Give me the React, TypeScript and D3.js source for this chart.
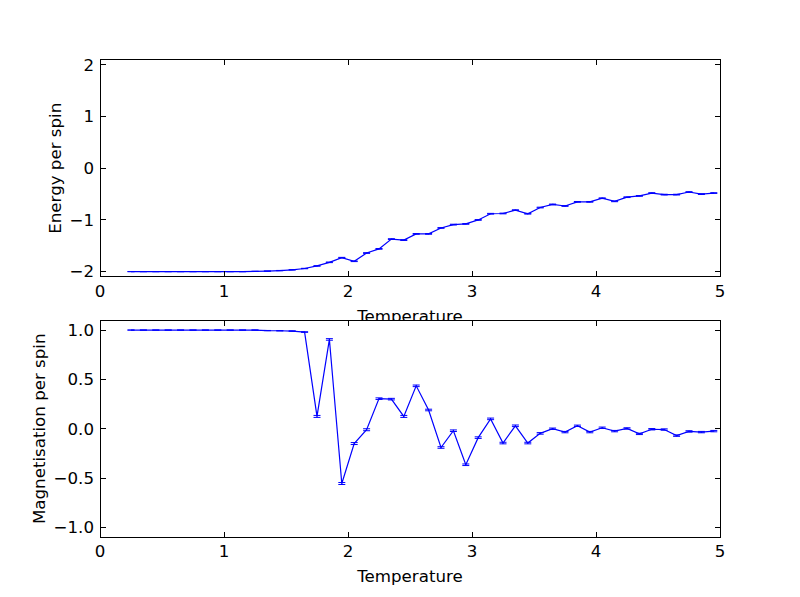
import * as d3 from "d3";

const temperatures = [
  0.25, 0.35, 0.45, 0.55, 0.65, 0.75, 0.85, 0.95, 1.05, 1.15,
  1.25, 1.35, 1.45, 1.55, 1.65, 1.75, 1.85, 1.95, 2.05, 2.15,
  2.25, 2.35, 2.45, 2.55, 2.65, 2.75, 2.85, 2.95, 3.05, 3.15,
  3.25, 3.35, 3.45, 3.55, 3.65, 3.75, 3.85, 3.95, 4.05, 4.15,
  4.25, 4.35, 4.45, 4.55, 4.65, 4.75, 4.85, 4.95,
];

const energy = [
  -2.0, -2.0, -2.0, -2.0, -2.0, -2.0, -2.0, -2.0, -2.0, -2.0,
  -1.995, -1.99, -1.98, -1.965, -1.94, -1.89, -1.82, -1.73, -1.8, -1.64,
  -1.56, -1.37, -1.39, -1.27, -1.27, -1.155, -1.09, -1.077, -1.0, -0.88,
  -0.875, -0.81, -0.88, -0.76, -0.7, -0.73, -0.65, -0.65, -0.58, -0.64,
  -0.56, -0.535, -0.48, -0.51, -0.51, -0.46, -0.5, -0.48,
];

const energyErr = [
  0.0, 0.0, 0.0, 0.0, 0.0, 0.0, 0.001, 0.001, 0.001, 0.002,
  0.002, 0.003, 0.003, 0.004, 0.004, 0.005, 0.006, 0.006, 0.006, 0.007,
  0.007, 0.007, 0.007, 0.007, 0.007, 0.007, 0.007, 0.007, 0.007, 0.007,
  0.007, 0.007, 0.007, 0.007, 0.007, 0.007, 0.007, 0.007, 0.007, 0.007,
  0.007, 0.007, 0.007, 0.007, 0.007, 0.007, 0.007, 0.007,
];

const magnetisation = [
  1.0, 1.0, 1.0, 1.0, 1.0, 1.0, 1.0, 1.0, 1.0, 1.0,
  1.0, 0.995, 0.993, 0.99, 0.98, 0.125, 0.905, -0.555, -0.15, -0.01,
  0.305, 0.3, 0.125, 0.435, 0.19, -0.19, -0.02, -0.365, -0.09, 0.1,
  -0.145, 0.03, -0.145, -0.047, 0.0, -0.034, 0.03, -0.034, 0.01, -0.024,
  0.003, -0.052, -0.005, -0.008, -0.07, -0.027, -0.034, -0.024,
];

const magnetisationErr = [
  0.0, 0.0, 0.0, 0.0, 0.0, 0.0, 0.0, 0.0, 0.0, 0.001,
  0.001, 0.001, 0.002, 0.002, 0.003, 0.01, 0.008, 0.01, 0.01, 0.01,
  0.008, 0.008, 0.01, 0.008, 0.008, 0.008, 0.008, 0.008, 0.008, 0.008,
  0.008, 0.008, 0.008, 0.008, 0.007, 0.007, 0.007, 0.007, 0.007, 0.007,
  0.007, 0.007, 0.007, 0.007, 0.007, 0.007, 0.007, 0.007,
];

const xTicks = [0, 1, 2, 3, 4, 5];
const energyTicks = [-2, -1, 0, 1, 2];
const magTicks = [-1.0, -0.5, 0.0, 0.5, 1.0];

const W = 800;
const H = 597;
const FONT = "DejaVu Sans, sans-serif";
const FS = 16.67;
const TICK = 5.5;
const BLUE = "#0000ff";

interface PanelProps {
  top: number;
  height: number;
  values: number[];
  errors: number[];
  yDomain: [number, number];
  yTicks: number[];
  yFormat: (v: number) => string;
  yLabel: string;
  yLabelX: number;
}

function Panel({ top, height, values, errors, yDomain, yTicks, yFormat, yLabel, yLabelX }: PanelProps) {
  const left = 100;
  const width = 620;
  const x = d3.scaleLinear().domain([0, 5]).range([left, left + width]);
  const y = d3.scaleLinear().domain(yDomain).range([top + height, top]);

  const pts = temperatures.map((t, i) => ({ t, v: values[i], e: errors[i] }));
  const line = d3
    .line<{ t: number; v: number }>()
    .x((d) => x(d.t))
    .y((d) => y(d.v));

  const bottom = top + height;
  const cap = 3.5;

  return (
    <g>
      <rect x={left} y={top} width={width} height={height} fill="#fff" />
      <path d={line(pts) ?? ""} fill="none" stroke={BLUE} strokeWidth={1.2} />
      {pts.map((p, i) => (
        <g key={i} stroke={BLUE} strokeWidth={1}>
          <line x1={x(p.t)} x2={x(p.t)} y1={y(p.v - p.e)} y2={y(p.v + p.e)} />
          <line x1={x(p.t) - cap} x2={x(p.t) + cap} y1={y(p.v - p.e)} y2={y(p.v - p.e)} />
          <line x1={x(p.t) - cap} x2={x(p.t) + cap} y1={y(p.v + p.e)} y2={y(p.v + p.e)} />
        </g>
      ))}
      {/* ticks inside on all sides */}
      <g stroke="#000" strokeWidth={1} shapeRendering="crispEdges">
        {xTicks.map((t) => (
          <g key={"x" + t}>
            <line x1={x(t)} x2={x(t)} y1={bottom} y2={bottom - TICK} />
            <line x1={x(t)} x2={x(t)} y1={top} y2={top + TICK} />
          </g>
        ))}
        {yTicks.map((t) => (
          <g key={"y" + t}>
            <line x1={left} x2={left + TICK} y1={y(t)} y2={y(t)} />
            <line x1={left + width} x2={left + width - TICK} y1={y(t)} y2={y(t)} />
          </g>
        ))}
        <rect x={left} y={top} width={width} height={height} fill="none" />
      </g>
      {xTicks.map((t) => (
        <text key={"xl" + t} x={x(t)} y={bottom + 20} textAnchor="middle" fontFamily={FONT} fontSize={FS}>
          {t}
        </text>
      ))}
      {yTicks.map((t) => (
        <text
          key={"yl" + t}
          x={left - 6}
          y={y(t)}
          dy="0.35em"
          textAnchor="end"
          fontFamily={FONT}
          fontSize={FS}
        >
          {yFormat(t)}
        </text>
      ))}
      <text
        transform={`translate(${yLabelX},${top + height / 2}) rotate(-90)`}
        textAnchor="middle"
        fontFamily={FONT}
        fontSize={FS}
      >
        {yLabel}
      </text>
    </g>
  );
}

export default function App() {
  const topY = 59.7;
  const h = 217.1;
  const botY = 320.2;
  return (
    <div style={{ position: "fixed", left: 0, top: 0 }}>
      <svg width={W} height={H} style={{ display: "block" }}>
        <rect width={W} height={H} fill="#fff" />
        <Panel
          top={topY}
          height={h}
          values={energy}
          errors={energyErr}
          yDomain={[-2.1, 2.1]}
          yTicks={energyTicks}
          yFormat={(v) => (v < 0 ? "\u2212" + Math.abs(v) : String(v))}
          yLabel="Energy per spin"
          yLabelX={61}
        />
        <text x={410} y={322} textAnchor="middle" fontFamily={FONT} fontSize={FS}>
          Temperature
        </text>
        <Panel
          top={botY}
          height={h}
          values={magnetisation}
          errors={magnetisationErr}
          yDomain={[-1.1, 1.1]}
          yTicks={magTicks}
          yFormat={(v) => (v < 0 ? "\u2212" + Math.abs(v).toFixed(1) : v.toFixed(1))}
          yLabel="Magnetisation per spin"
          yLabelX={45}
        />
        <text x={410} y={582} textAnchor="middle" fontFamily={FONT} fontSize={FS}>
          Temperature
        </text>
      </svg>
    </div>
  );
}
